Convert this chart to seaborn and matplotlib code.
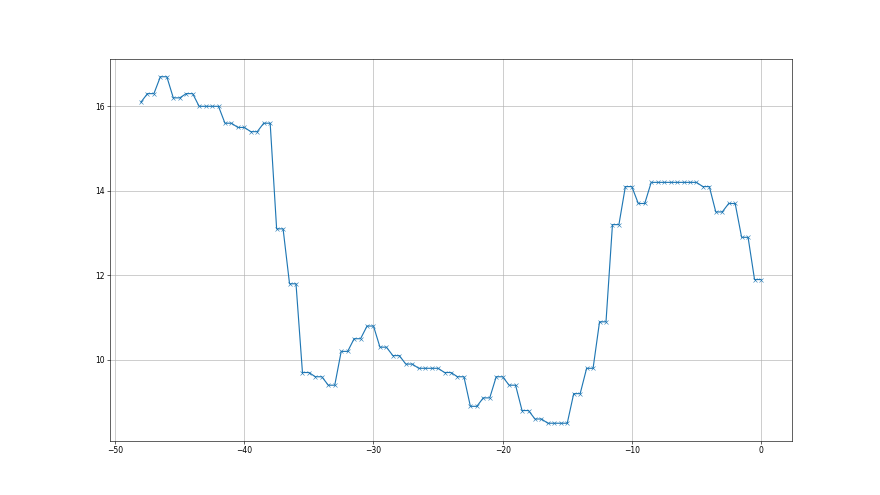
import matplotlib
matplotlib.use("Agg")
import matplotlib.pyplot as plt
import seaborn as sns
import numpy as np
import pandas as pd

x_values = [-48.0,
    -47.5, -47.0, -46.5, -46.0, -45.5, -45.0, -44.5, -44.0, -43.5, -43.0,
    -42.5, -42.0, -41.5, -41.0, -40.5, -40.0, -39.5, -39.0, -38.5, -38.0,
    -37.5, -37.0, -36.5, -36.0, -35.5, -35.0, -34.5, -34.0, -33.5, -33.0,
    -32.5, -32.0, -31.5, -31.0, -30.5, -30.0, -29.5, -29.0, -28.5, -28.0,
    -27.5, -27.0, -26.5, -26.0, -25.5, -25.0, -24.5, -24.0, -23.5, -23.0,
    -22.5, -22.0, -21.5, -21.0, -20.5, -20.0, -19.5, -19.0, -18.5, -18.0,
    -17.5, -17.0, -16.5, -16.0, -15.5, -15.0, -14.5, -14.0, -13.5, -13.0,
    -12.5, -12.0, -11.5, -11.0, -10.5, -10.0, -9.5, -9.0, -8.5, -8.0,
    -7.5, -7.0, -6.5, -6.0, -5.5, -5.0, -4.5, -4.0, -3.5, -3.0,
    -2.5, -2.0, -1.5, -1.0, -0.5, 0.0]

y_values = [16.1,
    16.3, 16.3, 16.7, 16.7, 16.2, 16.2, 16.3, 16.3, 16.0, 16.0,
    16.0, 16.0, 15.6, 15.6, 15.5, 15.5, 15.4, 15.4, 15.6, 15.6,
    13.1, 13.1, 11.8, 11.8, 9.7, 9.7, 9.6, 9.6, 9.4, 9.4,
    10.2, 10.2, 10.5, 10.5, 10.8, 10.8, 10.3, 10.3, 10.1, 10.1,
    9.9, 9.9, 9.8, 9.8, 9.8, 9.8, 9.7, 9.7, 9.6, 9.6,
    8.9, 8.9, 9.1, 9.1, 9.6, 9.6, 9.4, 9.4, 8.8, 8.8,
    8.6, 8.6, 8.5, 8.5, 8.5, 8.5, 9.2, 9.2, 9.8, 9.8,
    10.9, 10.9, 13.2, 13.2, 14.1, 14.1, 13.7, 13.7, 14.2, 14.2,
    14.2, 14.2, 14.2, 14.2, 14.2, 14.2, 14.1, 14.1, 13.5, 13.5,
    13.7, 13.7, 12.9, 12.9, 11.9, 11.9]

df = pd.DataFrame({"x": x_values, "y": y_values})

fig, ax = plt.subplots(figsize=(16, 9), dpi=55)
sns.lineplot(data=df, x="x", y="y", marker="x", color="#1f77b4",
             linewidth=1.5, markersize=6, markeredgecolor="#1f77b4",
             ax=ax, estimator=None, sort=False)
ax.grid(True, color="#b0b0b0", linewidth=0.8)
ax.set_axisbelow(True)
ax.set_xlabel("")
ax.set_ylabel("")
fig.savefig("out.png", dpi=55)
